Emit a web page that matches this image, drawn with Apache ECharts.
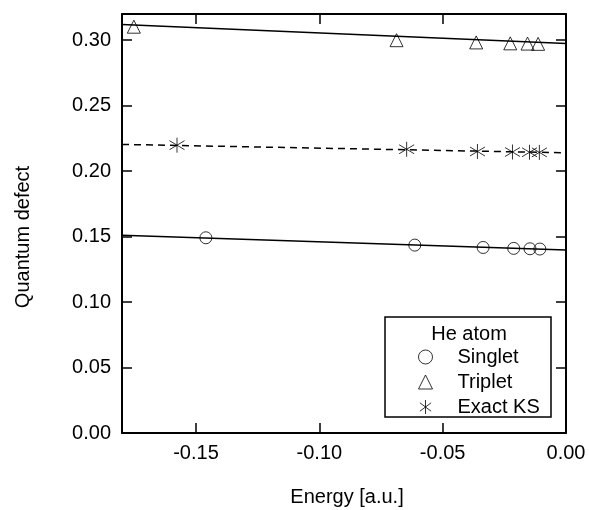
<!DOCTYPE html>
<html><head><meta charset="utf-8">
<script src="https://cdn.jsdelivr.net/npm/echarts@6/dist/echarts.min.js"></script>
<style>html,body{margin:0;padding:0;background:#fff}#c{width:589px;height:510px}</style>
</head><body><div id="c"></div>
<script>
// ---- data ----
const singletE = [-0.1460, -0.0613, -0.0336, -0.0212, -0.0146, -0.0106];
const singletD = [0.1491, 0.1435, 0.1417, 0.1410, 0.1407, 0.1405];
const tripletE = [-0.1752, -0.0687, -0.0364, -0.0226, -0.0156, -0.0113];
const tripletD = [0.3103, 0.3000, 0.2983, 0.2976, 0.2974, 0.2972];
const ksE = [-0.1577, -0.0646, -0.0359, -0.0217, -0.0148, -0.0108];
const ksD = [0.2198, 0.2167, 0.2150, 0.2146, 0.2144, 0.2143];
const fitE = [-0.18, 0.0];
const singletFit = [0.1511, 0.1397];
const tripletFit = [0.3120, 0.2975];
const ksFit = [0.2204, 0.2140];
const xTicks = [-0.15, -0.10, -0.05, 0.00];
const yTicks = [0.00, 0.05, 0.10, 0.15, 0.20, 0.25, 0.30];
const names = ['Singlet', 'Triplet', 'Exact KS'];
const legendTitle = 'He atom';
const xTitle = 'Energy [a.u.]';
const yTitle = 'Quantum defect';

const FONT = 'Liberation Sans, Arial, Helvetica, sans-serif';
const starPath = 'path://M0,-1L0,1M-0.8,-0.6L0.8,0.6M-0.8,0.6L0.8,-0.6';
const pts = (xs, ys) => xs.map((x, i) => [x, ys[i]]);
const hollow = {color: 'rgba(255,255,255,0)', borderColor: '#000', borderWidth: 1};

const tickStyle = {show: true, inside: true, length: 10, lineStyle: {color: '#000', width: 1.5}};
const lineStyleAx = {show: true, onZero: false, lineStyle: {color: '#000', width: 2}};

const chart = echarts.init(document.getElementById('c'), null, {renderer: 'canvas'});
chart.setOption({
  animation: false,
  backgroundColor: '#fff',
  grid: {left: 122, right: 23, top: 14, bottom: 77},
  xAxis: [
    {type: 'value', min: -0.18, max: 0, position: 'bottom',
     axisLine: lineStyleAx,
     axisTick: Object.assign({customValues: xTicks}, tickStyle),
     axisLabel: {customValues: xTicks, formatter: v => v.toFixed(2), color: '#000', fontSize: 20, fontFamily: FONT, margin: 10},
     splitLine: {show: false}},
    {type: 'value', min: -0.18, max: 0, position: 'top',
     axisLine: lineStyleAx,
     axisTick: Object.assign({customValues: xTicks}, tickStyle),
     axisLabel: {show: false}, splitLine: {show: false}}
  ],
  yAxis: [
    {type: 'value', min: 0, max: 0.32, position: 'left',
     axisLine: lineStyleAx,
     axisTick: Object.assign({customValues: yTicks}, tickStyle),
     axisLabel: {customValues: yTicks, formatter: v => v.toFixed(2), color: '#000', fontSize: 20, fontFamily: FONT, margin: 11},
     splitLine: {show: false}},
    {type: 'value', min: 0, max: 0.32, position: 'right',
     axisLine: lineStyleAx,
     axisTick: Object.assign({customValues: yTicks}, tickStyle),
     axisLabel: {show: false}, splitLine: {show: false}}
  ],
  legend: {
    data: names, orient: 'vertical', left: 418, top: 347,
    itemWidth: 14, itemHeight: 14, itemGap: 5,
    padding: 0,
    itemStyle: {borderWidth: 1, borderColor: '#000', color: 'rgba(255,255,255,0)'},
    textStyle: {fontSize: 20, fontFamily: FONT, color: '#000', lineHeight: 20, padding: [0, 0, 0, 20]}
  },
  graphic: [
    {type: 'rect', shape: {x: 385, y: 317, width: 166, height: 100}, style: {fill: 'none', stroke: '#000', lineWidth: 1.5}, z: 100},
    {type: 'text', x: 469, y: 334, style: {text: legendTitle, font: '20px ' + FONT, fill: '#000', textAlign: 'center', textVerticalAlign: 'middle'}, z: 100},
    {type: 'text', x: 347, y: 497, style: {text: xTitle, font: '20px ' + FONT, fill: '#000', textAlign: 'center', textVerticalAlign: 'middle'}},
    {type: 'text', x: 23, y: 237, rotation: Math.PI / 2, style: {text: yTitle, font: '20px ' + FONT, fill: '#000', textAlign: 'center', textVerticalAlign: 'middle'}}
  ],
  series: [
    {type: 'line', data: pts(fitE, tripletFit), showSymbol: false, symbol: 'none', silent: true, lineStyle: {color: '#000', width: 1.5}, z: 2},
    {type: 'line', data: pts(fitE, ksFit), showSymbol: false, symbol: 'none', silent: true, lineStyle: {color: '#000', width: 1.5, type: [7, 5]}, z: 2},
    {type: 'line', data: pts(fitE, singletFit), showSymbol: false, symbol: 'none', silent: true, lineStyle: {color: '#000', width: 1.5}, z: 2},
    {name: names[0], type: 'scatter', data: pts(singletE, singletD), symbol: 'circle', symbolSize: 12, itemStyle: hollow, z: 5},
    {name: names[1], type: 'scatter', data: pts(tripletE, tripletD), symbol: 'triangle', symbolSize: 13, itemStyle: hollow, z: 5},
    {name: names[2], type: 'scatter', data: pts(ksE, ksD), symbol: starPath, symbolSize: 15, itemStyle: hollow, z: 5}
  ]
});
</script></body></html>
